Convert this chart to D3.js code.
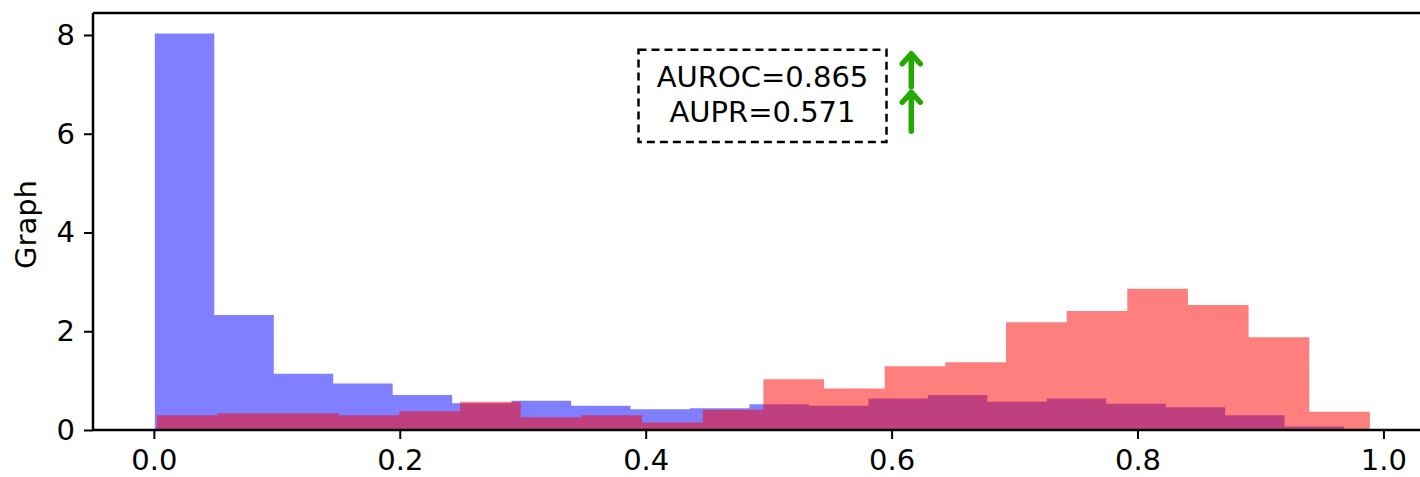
<!DOCTYPE html>
<html>
<head>
<meta charset="utf-8">
<script src="https://cdn.jsdelivr.net/npm/d3@7"></script>
<style>
  body { margin: 0; background: #fff; }
  text { font-family: "DejaVu Sans", sans-serif; fill: #000; }
</style>
</head>
<body>
<svg id="drawing_region"></svg>
<script>
// histogram heights (density), 20 bins each
const blueRange = [0.0008, 0.968];
const blueValues = [8.03, 2.33, 1.14, 0.94, 0.71, 0.54, 0.59, 0.49, 0.42, 0.44,
                    0.52, 0.49, 0.64, 0.71, 0.57, 0.64, 0.53, 0.46, 0.30, 0.07];
const redRange = [0.0024, 0.989];
const redValues = [0.30, 0.34, 0.34, 0.30, 0.38, 0.57, 0.26, 0.30, 0.15, 0.41,
                   1.03, 0.84, 1.29, 1.37, 2.18, 2.41, 2.86, 2.53, 1.88, 0.37];
const xTicks = [0.0, 0.2, 0.4, 0.6, 0.8, 1.0];
const yTicks = [0, 2, 4, 6, 8];
const annoLines = ["AUROC=0.865", "AUPR=0.571"];

const config = {
    width: 1420,
    height: 477,
    margin: {top: 13, left: 93, bottom: 47},
    fontSize: 29
};

function makeBins(range, values) {
    const w = (range[1] - range[0]) / values.length;
    return values.map((v, i) => ({x0: range[0] + i * w, x1: range[0] + (i + 1) * w, v: v}));
}

const svg = d3.select('#drawing_region')
    .attr('width', config.width)
    .attr('height', config.height);

const bottom = config.height - config.margin.bottom;

// x extends past the window on the right (right spine is cut off)
const xscale = d3.scaleLinear()
    .domain([-0.0495, 1.0395])
    .range([config.margin.left, 1432]);

const yscale = d3.scaleLinear()
    .domain([0, 8.445])
    .range([bottom, config.margin.top]);

// one step path per histogram so adjacent bars have no seams
const drawHist = (bins, color) => {
    const pts = bins.map(d => [d.x0, d.v]);
    pts.push([bins[bins.length - 1].x1, bins[bins.length - 1].v]);
    const area = d3.area()
        .curve(d3.curveStepAfter)
        .x(d => xscale(d[0]))
        .y0(yscale(0))
        .y1(d => yscale(d[1]));
    svg.append('path')
        .attr('d', area(pts))
        .attr('fill', color)
        .attr('fill-opacity', 0.5);
};

drawHist(makeBins(blueRange, blueValues), 'rgb(0,0,255)');
drawHist(makeBins(redRange, redValues), 'rgb(255,0,0)');

// axes
const xaxis = d3.axisBottom(xscale)
    .tickValues(xTicks)
    .tickFormat(d3.format('.1f'))
    .tickSize(9)
    .tickPadding(8)
    .tickSizeOuter(0);

const yaxis = d3.axisLeft(yscale)
    .tickValues(yTicks)
    .tickFormat(d3.format('d'))
    .tickSize(9)
    .tickPadding(9)
    .tickSizeOuter(0);

const xg = svg.append('g')
    .attr('transform', `translate(0, ${bottom})`)
    .call(xaxis);

const yg = svg.append('g')
    .attr('transform', `translate(${config.margin.left}, 0)`)
    .call(yaxis);

[xg, yg].forEach(g => {
    g.select('.domain').remove();
    g.selectAll('.tick line').attr('stroke', '#000').attr('stroke-width', 2);
    g.selectAll('.tick text')
        .attr('font-size', config.fontSize)
        .attr('font-family', 'DejaVu Sans')
        .attr('fill', '#000');
});
xg.selectAll('.tick text').attr('dy', '0.8em');

// spines
svg.append('line')
    .attr('x1', config.margin.left).attr('x2', config.width)
    .attr('y1', bottom).attr('y2', bottom)
    .attr('stroke', '#000').attr('stroke-width', 2.5);
svg.append('line')
    .attr('x1', config.margin.left).attr('x2', config.width)
    .attr('y1', config.margin.top).attr('y2', config.margin.top)
    .attr('stroke', '#000').attr('stroke-width', 2.5);
svg.append('line')
    .attr('x1', config.margin.left).attr('x2', config.margin.left)
    .attr('y1', config.margin.top).attr('y2', bottom)
    .attr('stroke', '#000').attr('stroke-width', 2.5);

// y label
svg.append('text')
    .attr('transform', `translate(36, ${(config.margin.top + bottom) / 2 + 3}) rotate(-90)`)
    .attr('text-anchor', 'middle')
    .attr('font-size', config.fontSize)
    .text('Graph');

// annotation box
const annoX = xscale(0.495);
const anno = svg.append('g');
anno.append('rect')
    .attr('x', annoX - 124)
    .attr('y', yscale(7.70))
    .attr('width', 248)
    .attr('height', yscale(5.83) - yscale(7.70))
    .attr('fill', 'none')
    .attr('stroke', '#000')
    .attr('stroke-width', 2.5)
    .attr('stroke-dasharray', '8,5');
anno.selectAll('text')
    .data(annoLines)
    .join('text')
    .attr('x', annoX)
    .attr('y', (d, i) => yscale(6.95) + i * 35)
    .attr('text-anchor', 'middle')
    .attr('font-size', config.fontSize)
    .text(d => d);

// green arrows
const arrowX = xscale(0.616);
const arrows = [[7.66, 6.95], [6.88, 6.05]];
arrows.forEach(a => {
    const top = yscale(a[0]), bot = yscale(a[1]);
    svg.append('path')
        .attr('d', `M${arrowX},${bot} L${arrowX},${top + 2} M${arrowX - 9},${top + 12} L${arrowX},${top + 2} L${arrowX + 9},${top + 12}`)
        .attr('fill', 'none')
        .attr('stroke', 'rgb(34,170,0)')
        .attr('stroke-width', 5.5)
        .attr('stroke-linecap', 'round')
        .attr('stroke-linejoin', 'round');
});
</script>
</body>
</html>
